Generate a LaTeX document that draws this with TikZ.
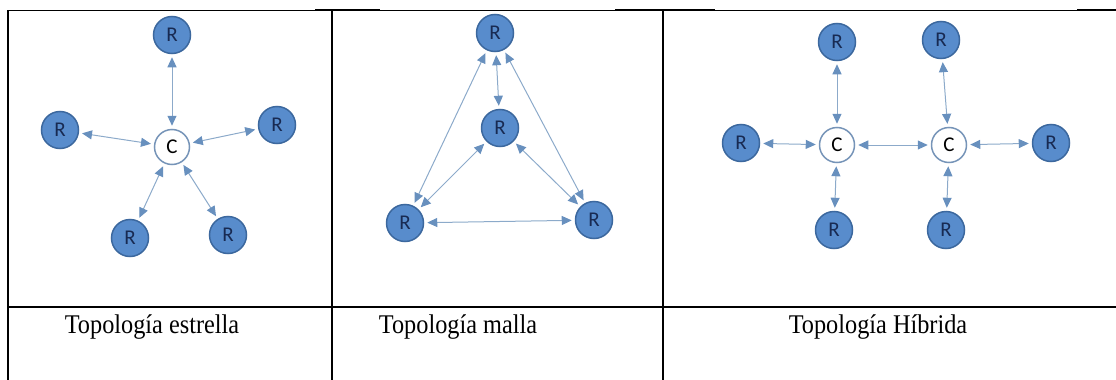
\documentclass[tikz,border=0pt]{standalone}
\usepackage{fontspec}
\setmainfont{Liberation Serif}
\newfontfamily\capfont[FakeStretch=0.9]{Liberation Serif}
\newfontfamily\nodefont{Carlito}
\usetikzlibrary{arrows.meta}
\definecolor{rfill}{RGB}{88,140,204}
\definecolor{rline}{RGB}{60,104,158}
\definecolor{rtext}{RGB}{24,42,82}
\definecolor{cline}{RGB}{118,148,184}
\definecolor{linkcol}{RGB}{140,170,202}
\definecolor{tipcol}{RGB}{104,144,190}
\tikzstyle{rnode}=[circle, draw=rline, fill=rfill, line width=1.5pt, minimum size=37pt, inner sep=0pt, text=rtext, font=\nodefont\fontsize{21}{21}\selectfont]
\tikzstyle{cnode}=[circle, draw=cline, fill=white, line width=1.5pt, minimum size=35pt, inner sep=0pt, font=\nodefont\fontsize{21}{21}\selectfont]
\tikzstyle{link}=[draw=linkcol, line width=1pt, {Triangle[length=10pt,width=9pt,color=tipcol]}-{Triangle[length=10pt,width=9pt,color=tipcol]}, shorten >=3pt, shorten <=3pt]
\tikzstyle{caption}=[anchor=base, font=\capfont\fontsize{27}{30}\selectfont]
\tikzstyle{rule}=[line width=2pt]

\begin{document}
\begin{tikzpicture}[x=1pt,y=-1pt]
    \useasboundingbox (0,0) rectangle (1116,380);
    % table lines
    \draw[line width=1pt] (8,10) -- (1116,10);
    \draw[line width=2.5pt] (315,10) -- (380,10) (615,10) -- (715,10) (1077,10) -- (1116,10);
    \draw[rule] (8,10) -- (8,380) (332,10) -- (332,380) (663,10) -- (663,380);
    \draw[rule] (8,307) -- (1116,307);
    % star
    \node [cnode] (sc) at (172,147) {C};
    \node [rnode] (s1) at (172,35) {R};
    \node [rnode] (s2) at (60,130) {R};
    \node [rnode] (s3) at (277,125) {R};
    \node [rnode] (s4) at (130,238) {R};
    \node [rnode] (s5) at (228,235) {R};
    \path[link] (sc) -- (s1);
    \path[link] (sc) -- (s2);
    \path[link] (sc) -- (s3);
    \path[link] (sc) -- (s4);
    \path[link] (sc) -- (s5);
    % mesh
    \node [rnode] (m1) at (495,33) {R};
    \node [rnode] (m2) at (500,128) {R};
    \node [rnode] (m3) at (405,223) {R};
    \node [rnode] (m4) at (594,220) {R};
    \path[link] (m1) -- (m2);
    \path[link] (m1) -- (m3);
    \path[link] (m1) -- (m4);
    \path[link] (m2) -- (m3);
    \path[link] (m2) -- (m4);
    \path[link] (m3) -- (m4);
    % hybrid
    \node [cnode] (h1) at (837,145) {C};
    \node [cnode] (h2) at (949,145) {C};
    \node [rnode] (ha) at (837,42) {R};
    \node [rnode] (hb) at (741,143) {R};
    \node [rnode] (hc) at (834,230) {R};
    \node [rnode] (hd) at (941,40) {R};
    \node [rnode] (he) at (1051,143) {R};
    \node [rnode] (hf) at (946,230) {R};
    \path[link] (h1) -- (ha);
    \path[link] (h1) -- (hb);
    \path[link] (h1) -- (hc);
    \path[link] (h1) -- (h2);
    \path[link] (h2) -- (hd);
    \path[link] (h2) -- (he);
    \path[link] (h2) -- (hf);
    % captions
    \node [caption] (t1) at (152,333) {Topología estrella};
    \node [caption] (t2) at (458,333) {Topología malla};
    \node [caption] (t3) at (878,333) {Topología Híbrida};
\end{tikzpicture}
\end{document}
